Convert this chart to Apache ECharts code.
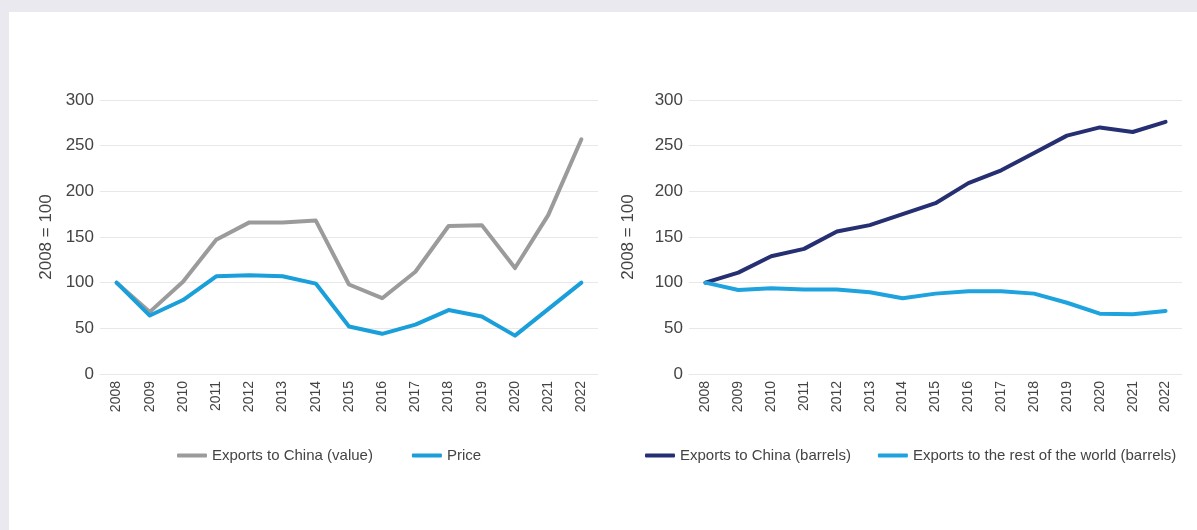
<!DOCTYPE html>
<html>
<head>
<meta charset="utf-8">
<script src="https://cdn.jsdelivr.net/npm/echarts@6/dist/echarts.min.js"></script>
<style>
  html, body { margin: 0; padding: 0; background: #e9e9ef; width: 1197px; height: 530px; overflow: hidden; }
  #panel { position: absolute; left: 9px; top: 12px; width: 1188px; height: 518px; background: #ffffff; }
  #chart { position: absolute; left: 0; top: 0; width: 1197px; height: 530px; }
</style>
</head>
<body>
<div id="panel"></div>
<div id="chart"></div>
<script>
const years = ['2008','2009','2010','2011','2012','2013','2014','2015','2016','2017','2018','2019','2020','2021','2022'];
const exportsChinaValue = [100, 68, 101, 147, 166, 166, 168, 98, 83, 112, 162, 163, 116, 174, 257];
const price = [100, 64, 81, 107, 108, 107, 99, 52, 44, 54, 70, 63, 42, 71, 100];
const exportsChinaBarrels = [100, 111, 129, 137, 156, 163, 175, 187, 209, 223, 242, 261, 270, 265, 276];
const exportsRestBarrels = [100, 92, 94, 92.5, 92.5, 89.5, 83, 88, 90.5, 90.5, 88, 78, 66, 65.5, 69];
const yTicks = { min: 0, max: 300, interval: 50 };
const yName = '2008 = 100';

const textColor = '#444444';
const gridColor = '#e8e8e8';
const font = 'Liberation Sans, Arial, Helvetica, sans-serif';

function yAxis(gridIndex, nameGap) {
  return {
    type: 'value', gridIndex: gridIndex,
    min: yTicks.min, max: yTicks.max, interval: yTicks.interval,
    name: yName, nameLocation: 'middle', nameGap: nameGap,
    nameTextStyle: { color: textColor, fontSize: 17, fontFamily: font },
    axisLine: { show: false }, axisTick: { show: false },
    axisLabel: { color: textColor, fontSize: 17, fontFamily: font, margin: 6 },
    splitLine: { lineStyle: { color: gridColor, width: 1 } }
  };
}
function xAxis(gridIndex) {
  return {
    type: 'category', gridIndex: gridIndex, data: years, boundaryGap: true,
    axisLine: { show: true, lineStyle: { color: gridColor, width: 1 } },
    axisTick: { show: false },
    axisLabel: { color: textColor, fontSize: 14, fontFamily: font, rotate: 90, margin: 7, interval: 0 }
  };
}
function line(name, data, color, idx) {
  return {
    name: name, type: 'line', data: data, xAxisIndex: idx, yAxisIndex: idx,
    showSymbol: false, symbol: 'none',
    lineStyle: { color: color, width: 4, cap: 'round', join: 'round' },
    itemStyle: { color: color },
    emphasis: { disabled: true }
  };
}

const chart = echarts.init(document.getElementById('chart'), null, { renderer: 'canvas' });
chart.setOption({
  backgroundColor: 'transparent',
  animation: false,
  grid: [
    { left: 100, top: 100, width: 498, height: 274 },
    { left: 689, top: 100, width: 493, height: 274 }
  ],
  xAxis: [xAxis(0), xAxis(1)],
  yAxis: [yAxis(0, 45), yAxis(1, 52)],
  legend: [
    {
      left: 172, top: 443, itemWidth: 30, itemHeight: 4, itemGap: 39, icon: 'roundRect',
      textStyle: { color: textColor, fontSize: 15, fontFamily: font },
      data: ['Exports to China (value)', 'Price']
    },
    {
      left: 640, top: 443, itemWidth: 30, itemHeight: 4, itemGap: 27, icon: 'roundRect',
      textStyle: { color: textColor, fontSize: 15, fontFamily: font },
      data: ['Exports to China (barrels)', 'Exports to the rest of the world (barrels)']
    }
  ],
  series: [
    line('Exports to China (value)', exportsChinaValue, '#9b9b9b', 0),
    line('Price', price, '#1a9fdb', 0),
    line('Exports to China (barrels)', exportsChinaBarrels, '#262f72', 1),
    line('Exports to the rest of the world (barrels)', exportsRestBarrels, '#1ea3de', 1)
  ]
});
</script>
</body>
</html>
